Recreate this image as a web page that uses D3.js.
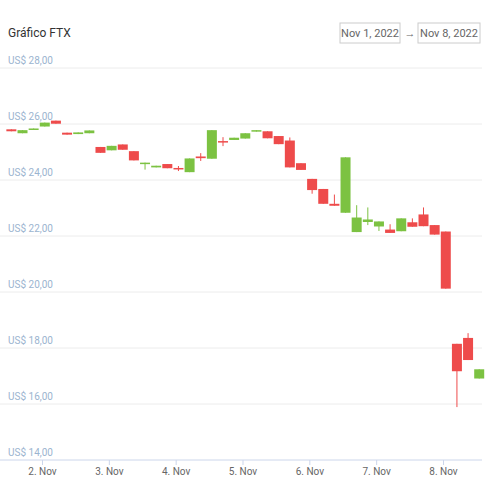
<!DOCTYPE html><html><head><meta charset="utf-8"><script src="https://cdn.jsdelivr.net/npm/d3@7"></script>
<style>body{margin:0;background:#fff;font-family:Roboto,sans-serif}</style></head><body><svg id="c" width="490" height="490"></svg>
<script>
const startTime = new Date(2022,10,1,13,0);
const opens  = [25.81,25.67,25.81,25.91,26.12,25.69,25.64,25.67,25.18,25.06,25.27,25.03,24.57,24.45,24.57,24.43,24.28,24.84,24.76,25.39,25.43,25.48,25.73,25.74,25.57,25.41,24.60,24.04,23.68,23.15,22.83,22.14,22.50,22.34,22.23,22.17,22.49,22.77,22.39,22.16,18.15,18.36,16.91];
const closes = [25.74,25.78,25.84,26.05,26.01,25.62,25.70,25.77,24.97,25.22,25.08,24.70,24.62,24.51,24.42,24.38,24.77,24.78,25.78,25.36,25.51,25.67,25.78,25.49,25.28,24.45,24.36,23.64,23.15,23.08,24.81,22.66,22.59,22.52,22.11,22.63,22.33,22.35,22.05,20.12,17.17,17.57,17.24];
const highs  = [null,null,null,null,null,null,null,null,null,null,null,null,null,null,null,24.50,null,24.96,null,25.53,null,null,null,null,null,25.52,null,null,null,23.48,null,23.10,23.02,null,22.42,null,22.63,23.02,null,null,null,18.53,null];
const lows   = [null,null,null,null,null,null,null,null,null,null,null,null,24.37,null,null,24.32,null,24.68,null,25.21,null,null,null,null,null,null,null,23.51,null,null,null,null,22.39,22.18,null,null,null,null,null,null,15.89,null,null];
const yTicks = [14,16,18,20,22,24,26,28];
const xTickDays = [2,3,4,5,6,7,8];
const data = opens.map((o,i)=>({t:new Date(+startTime+i*4*3600e3),o,c:closes[i],
  h:highs[i]??Math.max(o,closes[i]),l:lows[i]??Math.min(o,closes[i])}));
const svg=d3.select("#c");
const x=d3.scaleTime().domain([new Date(2022,10,2),new Date(2022,10,8)]).range([42,443]);
const y=d3.scaleLinear().domain([14,28]).range([460,68]);
const fmt=v=>"US$ "+v.toFixed(2).replace(".",",");
yTicks.forEach(v=>{
  svg.append("line").attr("x1",0).attr("x2",482).attr("y1",y(v)).attr("y2",y(v)).attr("stroke",v===14?"#ccd6eb":"#ececec");
  svg.append("text").attr("x",8).attr("y",y(v)-4).attr("font-size",10).attr("fill","#9bb4cf").text(fmt(v));
});
const xAxis=svg.append("g").attr("transform","translate(0,460)").call(d3.axisBottom(x).tickValues(xTickDays.map(d=>new Date(2022,10,d))).tickFormat(d=>d.getDate()+". Nov").tickSize(5).tickSizeOuter(0));
xAxis.select(".domain").remove();
xAxis.selectAll("line").attr("stroke","#ccd6eb");
xAxis.selectAll("text").attr("fill","#666").attr("font-size",10).attr("font-family","Roboto");
const g=svg.append("g");
data.forEach(d=>{
  const col=d.c>=d.o?"#7cc242":"#ee4b4b";
  const cx=x(d.t);
  g.append("line").attr("x1",cx).attr("x2",cx).attr("y1",y(d.h)).attr("y2",y(d.l)).attr("stroke",col).attr("stroke-width",1);
  const top=y(Math.max(d.o,d.c)),bot=y(Math.min(d.o,d.c));
  g.append("rect").attr("x",cx-5).attr("width",10).attr("y",top).attr("height",Math.max(1.5,bot-top)).attr("fill",col);
});
svg.append("text").attr("x",8).attr("y",37).attr("font-size",12).attr("fill","#333").text("Gráfico FTX");
[[340,"Nov 1, 2022",60],[418,"Nov 8, 2022",62]].forEach(([bx,t,w])=>{
  svg.append("rect").attr("x",bx).attr("y",23).attr("width",w).attr("height",20).attr("fill","#fff").attr("stroke","#ccc");
  svg.append("text").attr("x",bx+w/2).attr("y",37).attr("text-anchor","middle").attr("font-size",11).attr("fill","#666").text(t);
});
svg.append("text").attr("x",410).attr("y",37).attr("text-anchor","middle").attr("font-size",11).attr("fill","#666").text("→");
</script></body></html>
